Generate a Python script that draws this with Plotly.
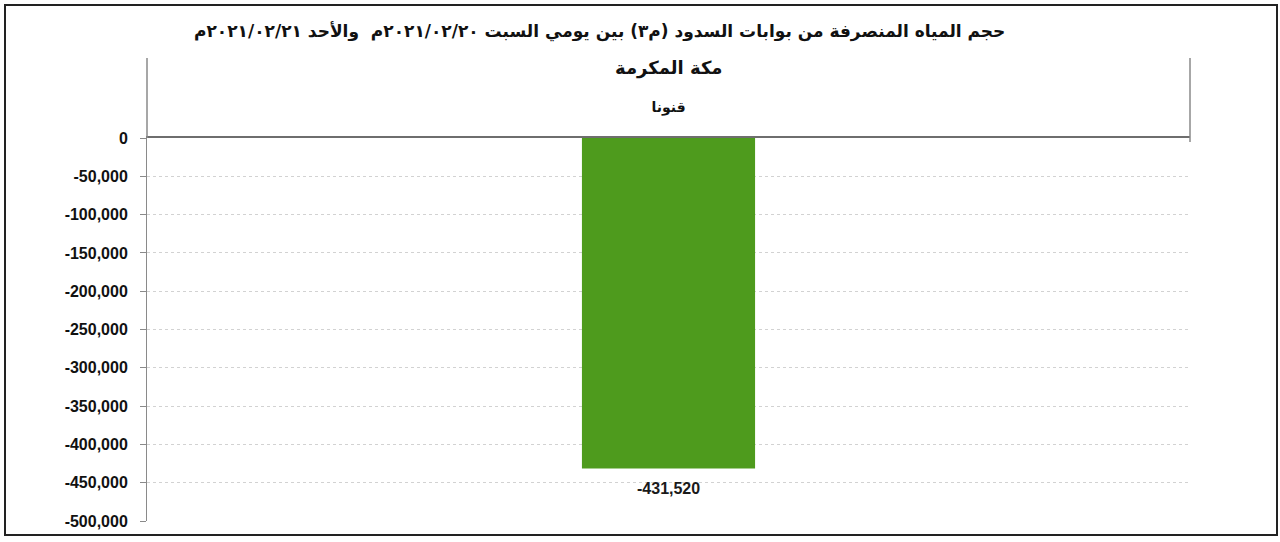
import plotly.graph_objects as go

# ---- data ----
categories = ["قنونا"]
values = [-431520]
title_line1 = "حجم المياه المنصرفة من بوابات السدود (م٣) بين يومي السبت ٢٠٢١/٠٢/٢٠م  والأحد ٢٠٢١/٠٢/٢١م"
group_label = "مكة المكرمة"
y_ticks = [0, -50000, -100000, -150000, -200000, -250000, -300000, -350000, -400000, -450000, -500000]
y_tick_labels = ["0", "-50,000", "-100,000", "-150,000", "-200,000", "-250,000",
                 "-300,000", "-350,000", "-400,000", "-450,000", "-500,000"]

W, H = 1280, 542
L, R, T, B = 147, 90, 138, 21
PW, PH = W - L - R, H - T - B

def px_x(px):
    return (px - L) / PW

def px_y(py):
    return (H - B - py) / PH

fig = go.Figure()
fig.add_trace(go.Bar(
    x=categories, y=values,
    marker=dict(color="#4e9b1d", line=dict(width=0)),
    width=0.166,
    hoverinfo="skip",
))

grid_col = "#d2d2d2"
fig.update_layout(
    width=W, height=H,
    margin=dict(l=L, r=R, t=T, b=B, autoexpand=False),
    paper_bgcolor="white", plot_bgcolor="white",
    showlegend=False,
    bargap=0.834,
    xaxis=dict(
        side="top", type="category",
        showline=True, linecolor="#6e6e6e", linewidth=2,
        ticks="", showgrid=False,
        tickfont=dict(family="DejaVu Sans, Arial", size=14, color="#111", weight="bold"),
        ticklabelstandoff=18,
    ),
    yaxis=dict(
        range=[-500000, 0],
        tickvals=y_ticks,
        ticktext=y_tick_labels,
        showline=True, linecolor="#8a8a8a", linewidth=1,
        ticks="outside", ticklen=6, tickcolor="#8a8a8a",
        showgrid=True, gridcolor=grid_col, griddash="dot", gridwidth=1,
        zeroline=False,
        tickfont=dict(family="Liberation Sans, Arial", size=16, color="#111", weight="bold"),
        ticklabelstandoff=9,
    ),
    annotations=[
        dict(text=f"<b>{title_line1}</b>", xref="paper", yref="paper",
             x=px_x(599), y=px_y(32), xanchor="center", yanchor="middle",
             showarrow=False, font=dict(family="DejaVu Sans, Arial", size=17, color="#111")),
        dict(text=f"<b>{group_label}</b>", xref="paper", yref="paper",
             x=0.5, y=px_y(68), xanchor="center", yanchor="middle",
             showarrow=False, font=dict(family="DejaVu Sans, Arial", size=18, color="#111")),
        dict(text=f"<b>{values[0]:,}</b>", xref="x", yref="y",
             x=categories[0], y=values[0], xanchor="center", yanchor="top",
             yshift=-9, showarrow=False,
             font=dict(family="Liberation Sans, Arial", size=16, color="#1a1a1a")),
    ],
    shapes=[
        # outer frame
        dict(type="rect", xref="paper", yref="paper",
             x0=px_x(5), x1=px_x(1277), y0=px_y(535), y1=px_y(5),
             line=dict(color="#222", width=2), layer="below"),
        # category separators
        dict(type="line", xref="paper", yref="paper",
             x0=0, x1=0, y0=1, y1=px_y(58), line=dict(color="#8a8a8a", width=1.5)),
        dict(type="line", xref="paper", yref="paper",
             x0=1, x1=1, y0=px_y(142), y1=px_y(58), line=dict(color="#8a8a8a", width=1.5)),
    ],
)

fig.write_html(
    "out.html",
    config={"displayModeBar": False},
    post_script="document.body.style.margin='0';document.body.style.overflow='hidden';",
)
